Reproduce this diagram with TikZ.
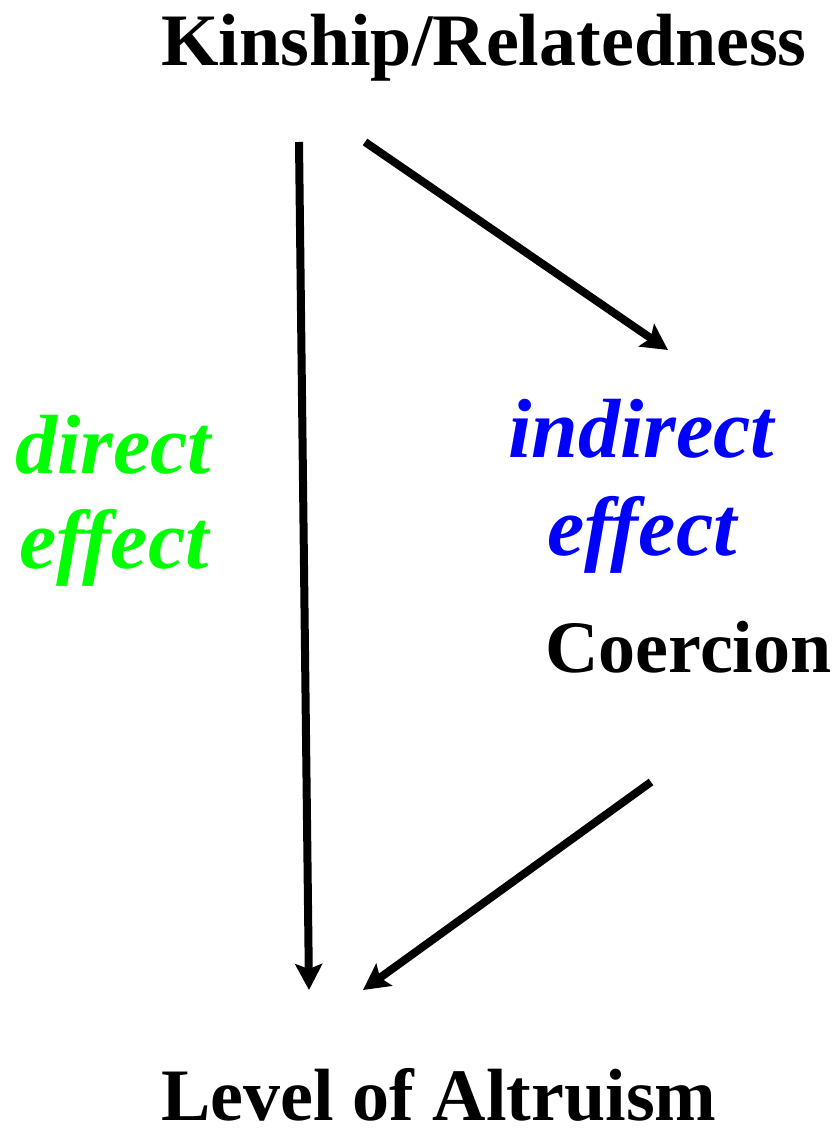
\documentclass[tikz,border=0pt]{standalone}
\usepackage{fontspec}
\setmainfont{Liberation Serif}
\usetikzlibrary{arrows.meta}
\definecolor{effgreen}{RGB}{0,255,0}
\definecolor{effblue}{RGB}{0,0,255}
\tikzset{
  bigtext/.style={inner sep=0pt, anchor=base, font=\fontsize{74}{80}\selectfont\bfseries},
  efftext/.style={inner sep=0pt, anchor=base, font=\fontsize{84}{90}\selectfont\bfseries\itshape},
  arr/.style={line width=8pt, -{Stealth[length=26pt, width=27pt, inset=5pt]}}
}
\begin{document}
\begin{tikzpicture}[x=1pt, y=-1pt]
\useasboundingbox (0,0) rectangle (836,1135);
\node[bigtext] (kin) at (484,65) {Kinship/Relatedness};
\node[bigtext] (alt) at (439,1120) {Level of Altruism};
\node[bigtext, anchor=base west] (coer) at (545,672) {Coercion};
\node[efftext, text=effgreen] (dir1) at (113,473) {direct};
\node[efftext, text=effgreen] (dir2) at (114,568) {effect};
\node[efftext, text=effblue] (ind1) at (641,457) {indirect};
\node[efftext, text=effblue] (ind2) at (642,555) {effect};
\coordinate (kinL) at (299,142);
\coordinate (kinR) at (365,142);
\coordinate (altL) at (309,990);
\coordinate (altR) at (363,990);
\coordinate (coerT) at (668,350);
\coordinate (coerB) at (651,782);
\draw[arr] (kinL) -- (altL);
\draw[arr] (kinR) -- (coerT);
\draw[arr] (coerB) -- (altR);
\end{tikzpicture}
\end{document}
